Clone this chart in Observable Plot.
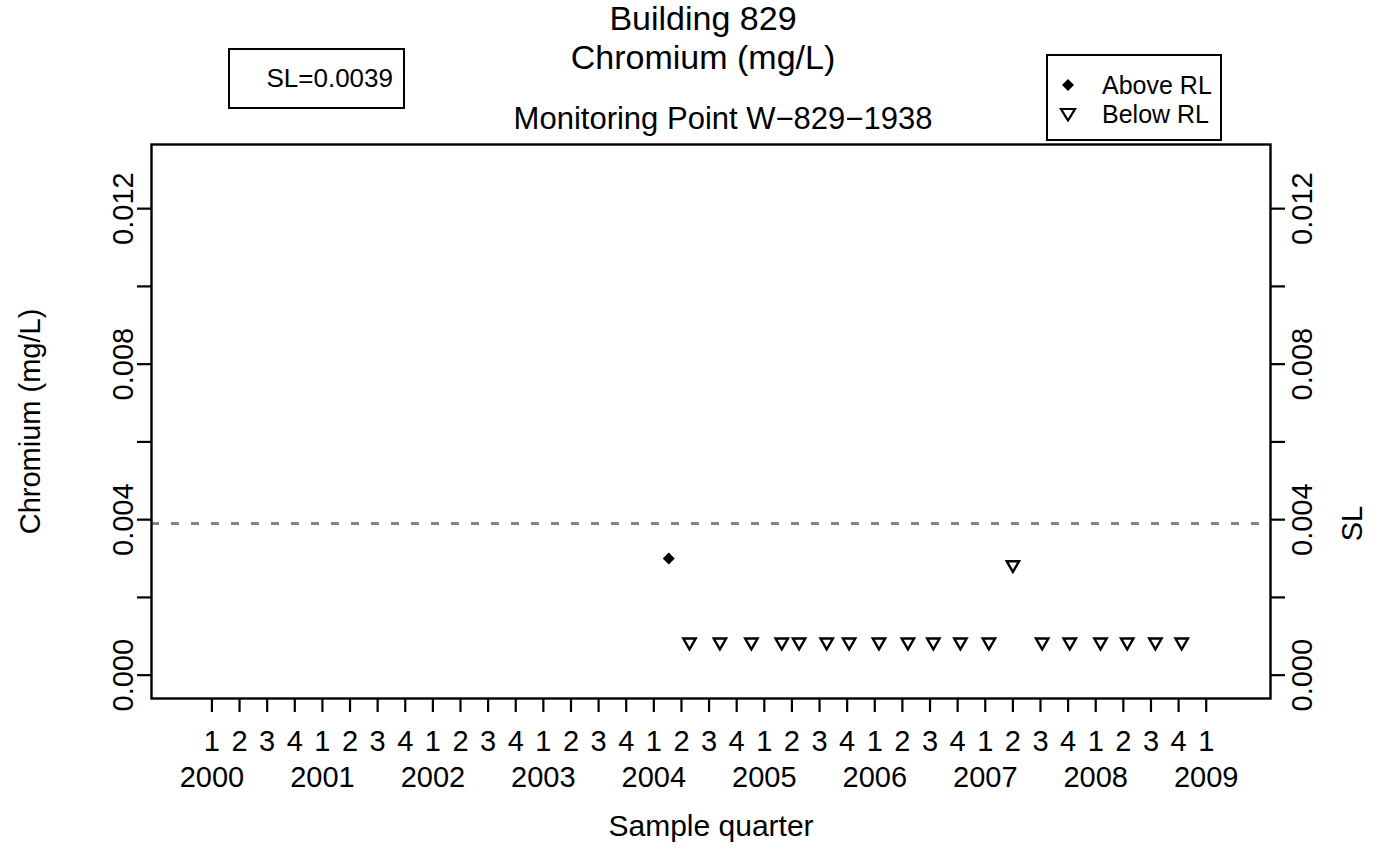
<!DOCTYPE html>
<html>
<head>
<meta charset="utf-8">
<script src="https://cdn.jsdelivr.net/npm/d3@7"></script>
<script src="https://cdn.jsdelivr.net/npm/@observablehq/plot@0.6"></script>
<style>
  html, body { margin: 0; padding: 0; background: #fff; }
  #wrap { position: relative; width: 1389px; height: 848px; font-family: "Liberation Sans", Arial, Helvetica, sans-serif; color: #000; }
  #wrap svg { position: absolute; left: 0; top: 0; }
  .box { position: absolute; box-sizing: border-box; border: 2px solid #000; background: #fff; }
  .lg-row { position: absolute; left: 0; font-size: 25px; line-height: 25px; white-space: nowrap; }
</style>
</head>
<body>
<div id="wrap"></div>
<script>
// ---------- data ----------
const titleLine1 = "Building 829";
const titleLine2 = "Chromium (mg/L)";
const subtitle = "Monitoring Point W\u2212829\u22121938";
const xTitle = "Sample quarter";
const yTitle = "Chromium (mg/L)";
const rightTitle = "SL";
const SL = 0.0039;
const slLabel = "SL=0.0039";
const legendLabels = ["Above RL", "Below RL"];

const years = [2000, 2001, 2002, 2003, 2004, 2005, 2006, 2007, 2008, 2009];
const quarterLabels = ["1", "2", "3", "4"];
const yTicks = [0, 0.002, 0.004, 0.006, 0.008, 0.010, 0.012];
const yLabeled = [0, 0.004, 0.008, 0.012];

// sample dates as decimal years
const aboveX = [2004.135];
const aboveY = [0.0030];
const belowX = [2004.323, 2004.598, 2004.883, 2005.158, 2005.315, 2005.565, 2005.768,
                2006.038, 2006.300, 2006.530, 2006.775, 2007.033, 2007.250, 2007.515,
                2007.765, 2008.043, 2008.285, 2008.540, 2008.778];
const belowY = [0.00085, 0.00085, 0.00085, 0.00085, 0.00085, 0.00085, 0.00085,
                0.00085, 0.00085, 0.00085, 0.00085, 0.00085, 0.00284, 0.00085,
                0.00085, 0.00085, 0.00085, 0.00085, 0.00085];

// ---------- derived tables ----------
const quarterTicks = [];
years.forEach((yr, i) => {
  if (i < years.length - 1) quarterLabels.forEach((q, k) => quarterTicks.push(yr + k / 4));
  else quarterTicks.push(yr);
});
const above = aboveX.map((x, i) => ({x, y: aboveY[i]}));
const below = belowX.map((x, i) => ({x, y: belowY[i]}));

const downTriangle = {
  draw(ctx, size) {
    const h = Math.sqrt(size / (Math.sqrt(3) * 3));
    ctx.moveTo(0, 2 * h);
    ctx.lineTo(-Math.sqrt(3) * h, -h);
    ctx.lineTo(Math.sqrt(3) * h, -h);
    ctx.closePath();
  }
};

const FONT = "Liberation Sans, Arial, Helvetica, sans-serif";

const plot = Plot.plot({
  width: 1389,
  height: 848,
  marginLeft: 151,
  marginRight: 119,
  marginTop: 144,
  marginBottom: 150,
  style: {fontFamily: FONT, fontSize: "28px", color: "#000", background: "transparent", overflow: "visible"},
  x: {domain: [1999.453, 2009.582], axis: null},
  y: {domain: [-0.0006, 0.01365], axis: null},
  marks: [
    Plot.ruleY([SL], {stroke: "#858585", strokeWidth: 3, strokeDasharray: "8,12"}),
    Plot.frame({stroke: "#000", strokeWidth: 2.4}),
    Plot.axisX({
      ticks: quarterTicks,
      tickFormat: d => quarterLabels[Math.round((d - Math.floor(d)) * 4)],
      tickSize: 14, tickPadding: 18, fontSize: 29, strokeWidth: 2.2, label: null
    }),
    Plot.axisX({
      ticks: years, tickFormat: d => String(d),
      tickSize: 0, tickPadding: 68, fontSize: 29, label: null
    }),
    Plot.axisY({
      anchor: "left", ticks: yTicks,
      tickFormat: d => yLabeled.includes(d) ? d.toFixed(3) : "",
      tickSize: 14, tickRotate: -90, tickPadding: 5, fontSize: 29, strokeWidth: 2.2, label: null
    }),
    Plot.axisY({
      anchor: "right", ticks: yTicks,
      tickFormat: d => yLabeled.includes(d) ? d.toFixed(3) : "",
      tickSize: 14, tickRotate: -90, tickPadding: 7, lineAnchor: "top", fontSize: 29, strokeWidth: 2.2, label: null
    }),
    Plot.text([xTitle], {frameAnchor: "bottom", dy: 128, lineAnchor: "middle", fontSize: 30}),
    Plot.text([yTitle], {frameAnchor: "left", dx: -121, rotate: -90, textAnchor: "middle", fontSize: 29}),
    Plot.text([SL], {y: d => d, text: () => rightTitle, frameAnchor: "right", dx: 82, rotate: -90, textAnchor: "middle", fontSize: 29}),
    Plot.text([titleLine1], {frameAnchor: "top", dx: -8, dy: 19 - 144, lineAnchor: "middle", fontSize: 34}),
    Plot.text([titleLine2], {frameAnchor: "top", dx: -8, dy: 58 - 144, lineAnchor: "middle", fontSize: 34}),
    Plot.text([subtitle], {frameAnchor: "top", dx: 12, dy: 119 - 144, lineAnchor: "middle", fontSize: 31}),
    Plot.dot(above, {x: "x", y: "y", symbol: "diamond2", r: 5.4, fill: "#000", stroke: "none"}),
    Plot.dot(below, {x: "x", y: "y", symbol: downTriangle, r: 4.6, fill: "none", stroke: "#000", strokeWidth: 2.4})
  ]
});

const wrap = document.getElementById("wrap");
wrap.appendChild(plot);

// SL box
const slBox = document.createElement("div");
slBox.className = "box";
Object.assign(slBox.style, {left: "228px", top: "48px", width: "177px", height: "61px",
  fontSize: "26px", lineHeight: "57px", textAlign: "right", paddingRight: "10px"});
slBox.textContent = slLabel;
wrap.appendChild(slBox);

// legend box
const lg = document.createElement("div");
lg.className = "box";
Object.assign(lg.style, {left: "1046px", top: "54px", width: "176px", height: "87px"});
const symSvg = [
  '<svg width="16" height="16" viewBox="-8 -8 16 16" style="position:absolute;left:12px;top:-8px"><path d="M0,-6L6,0L0,6L-6,0Z" fill="#000"/></svg>',
  '<svg width="18" height="16" viewBox="-9 -8 18 16" style="position:absolute;left:11px;top:-8px"><path d="M-7,-5L7,-5L0,6.5Z" fill="none" stroke="#000" stroke-width="2.2"/></svg>'
];
const rowY = [29, 58];
legendLabels.forEach((lab, i) => {
  const row = document.createElement("div");
  row.className = "lg-row";
  row.style.top = rowY[i] + "px";
  row.style.width = "100%";
  row.innerHTML = symSvg[i] + '<span style="position:absolute;left:54px;top:-12px">' + lab + '</span>';
  lg.appendChild(row);
});
wrap.appendChild(lg);
</script>
</body>
</html>
